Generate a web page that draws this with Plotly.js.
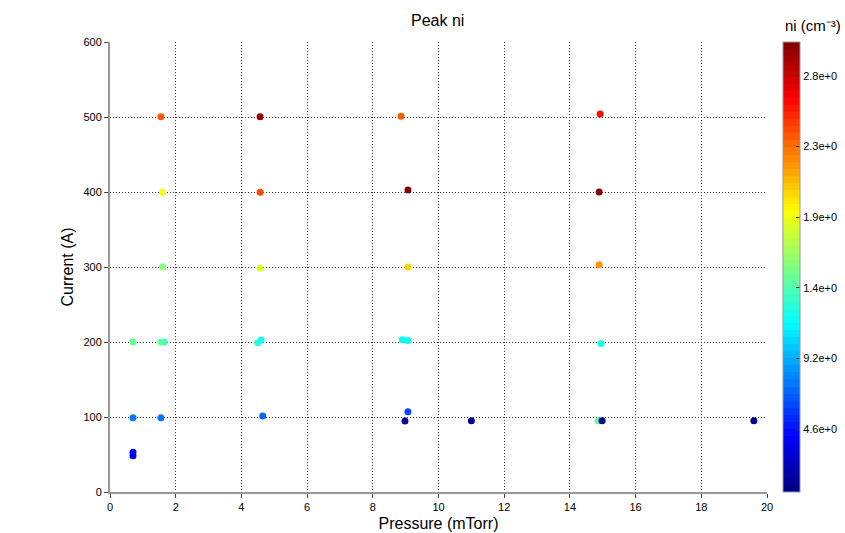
<!DOCTYPE html>
<html>
<head>
<meta charset="utf-8">
<script src="https://cdn.plot.ly/plotly-3.0.1.min.js"></script>
<style>html,body{margin:0;padding:0;background:#fff;}#chart{width:845px;height:533px;}</style>
</head>
<body>
<div id="chart"></div>
<script>
// Data (ni in units of 1e17 cm^-3)
const pressure = [0.7, 0.7, 0.7, 0.7, 1.55, 1.55, 1.65, 1.6, 1.6, 1.55,
                  4.57, 4.57, 4.57, 4.5, 4.6, 4.65,
                  8.86, 9.07, 9.07, 8.9, 9.07, 9.07, 8.98, 11.0,
                  14.92, 14.89, 14.89, 14.95, 14.86, 14.98, 19.6];
const current  = [52.9, 48.4, 99, 200, 99, 200, 200, 300.4, 399.6, 500.4,
                  500.4, 399.6, 298.3, 199.1, 202.7, 101.3,
                  501, 402.7, 300, 203, 202, 107, 94.7, 95,
                  504, 400, 303, 198, 95, 95, 95];
const ni       = [4.2, 4.0, 7.6, 14.6, 7.8, 14.3, 13.4, 15.2, 18.8, 23.4,
                   28.9, 24.0, 17.6, 12.8, 12.4, 7.2,
                   23.7, 29.5, 20.1, 11.6, 11.8, 6.0, 1.0, 1.0,
                   26.1, 29.5, 21.6, 12.3, 14.0, 1.0, 1.0];
const cbTickVals = [4.6, 9.2, 13.8, 18.4, 23.0, 27.6];
const cbTickText = ['4.6e+0', '9.2e+0', '1.4e+0', '1.9e+0', '2.3e+0', '2.8e+0'];
const xTicks = [0, 2, 4, 6, 8, 10, 12, 14, 16, 18, 20];
const yTicks = [0, 100, 200, 300, 400, 500, 600];

// MATLAB-like jet colorscale, 64 steps
function jetRGB(t) {
  const r = Math.min(Math.max(Math.min(4*t - 1.5, -4*t + 4.5), 0), 1);
  const g = Math.min(Math.max(Math.min(4*t - 0.5, -4*t + 3.5), 0), 1);
  const b = Math.min(Math.max(Math.min(4*t + 0.5, -4*t + 2.5), 0), 1);
  return 'rgb(' + Math.round(r*255) + ',' + Math.round(g*255) + ',' + Math.round(b*255) + ')';
}
const N = 64, jet = [];
for (let i = 0; i < N; i++) {
  const c = jetRGB((i + 0.5) / N);
  jet.push([i / N, c]);
  jet.push([(i + 1) / N, c]);
}

const FONT = 'Liberation Sans, Arial';

const trace = {
  type: 'scatter', mode: 'markers',
  x: pressure, y: current,
  marker: {
    size: 7, color: ni, colorscale: jet, cmin: 0.5, cmax: 29.8,
    line: {width: 0},
    colorbar: {
      x: 1.0244, xanchor: 'left', xpad: 0, y: 0.5, yanchor: 'middle',
      len: 1, lenmode: 'fraction', ypad: 0, thickness: 17,
      outlinecolor: '#999', outlinewidth: 1,
      tickvals: cbTickVals, ticktext: cbTickText,
      ticks: 'inside', ticklen: 4, tickcolor: '#333',
      tickfont: {family: FONT, size: 11, color: '#000'},
      title: {text: ''}
    }
  },
  hoverinfo: 'x+y'
};

const layout = {
  width: 845, height: 533,
  margin: {l: 110, r: 78, t: 42, b: 41, autoexpand: false},
  paper_bgcolor: '#fff', plot_bgcolor: '#fff',
  showlegend: false,
  title: {text: 'Peak ni', x: 0.518, xanchor: 'center', y: 0.962, yanchor: 'middle',
          font: {family: FONT, size: 16, color: '#000'}},
  annotations: [{
    text: 'ni (cm\u207B\u00B3)', xref: 'paper', yref: 'paper',
    x: 1.1157, xanchor: 'right', y: 1.0, yanchor: 'bottom', yshift: 6,
    showarrow: false, font: {family: FONT, size: 15, color: '#000'}
  }],
  xaxis: {
    range: [0, 20], tickvals: xTicks, ticks: 'outside', ticklen: 4, tickcolor: '#444',
    showline: true, linecolor: '#999', linewidth: 2,
    showgrid: true, gridcolor: '#333', griddash: '1px,2px', gridwidth: 1, zeroline: false,
    tickfont: {family: FONT, size: 11, color: '#000'},
    title: {text: 'Pressure (mTorr)', standoff: 6, font: {family: FONT, size: 16, color: '#000'}}
  },
  yaxis: {
    range: [0, 600], tickvals: yTicks, ticks: 'outside', ticklen: 4, tickcolor: '#444',
    showline: true, linecolor: '#999', linewidth: 2,
    showgrid: true, gridcolor: '#333', griddash: '1px,2px', gridwidth: 1, zeroline: false,
    tickfont: {family: FONT, size: 11, color: '#000'},
    title: {text: 'Current (A)', standoff: 6, font: {family: FONT, size: 16, color: '#000'}}
  }
};

Plotly.newPlot('chart', [trace], layout, {displayModeBar: false, staticPlot: true});
</script>
</body>
</html>
